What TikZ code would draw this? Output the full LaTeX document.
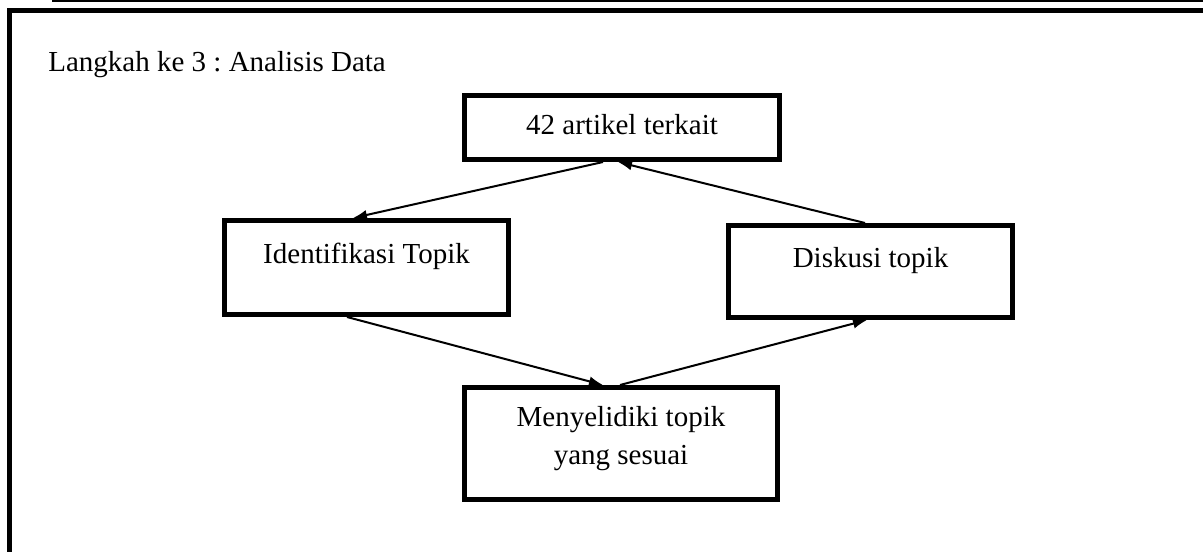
\documentclass[tikz,border=0pt]{standalone}
\usepackage{fontspec}
\setmainfont{Liberation Serif}
\usetikzlibrary{arrows.meta}
\frenchspacing

\begin{document}
\begin{tikzpicture}[x=0.5pt, y=-0.5pt,
    box/.style={draw, line width=2.5pt, inner xsep=0pt, inner ysep=0pt, align=center,
        font=\fontsize{14.5}{19}\selectfont},
    link/.style={-{Latex[length=7pt,width=5pt]}, line width=1pt}]
    \useasboundingbox (0,0) rectangle (1203,551);

    % Draw frame
    \draw[line width=0.8pt] (52,0.8) -- (1210,0.8);
    \draw[line width=2.5pt] (9.5,560) -- (9.5,10.5) -- (1210,10.5);

    % Title
    \node[anchor=base west, inner sep=0pt, font=\fontsize{14.5}{19}\selectfont] (judul) at (48,72) {Langkah ke 3 : Analisis Data};

    % Draw boxes
    \node[box, minimum width=157.5pt, text height=19.5pt, text depth=12.5pt] (artikel) at (622,127.5) {42 artikel terkait};
    \node[box, minimum width=142pt, text height=21.25pt, text depth=25.75pt] (ident) at (366.5,267.5) {Identifikasi Topik};
    \node[box, minimum width=142pt, text height=21pt, text depth=25pt] (diskusi) at (870.5,271.5) {Diskusi topik};
    \node[box, minimum width=156.5pt, text height=38.25pt, text depth=17.75pt] (selidik) at (621,443.5) {Menyelidiki topik\\ yang sesuai};

    % Draw arrows
    \draw[link] ([xshift=-9.5pt]artikel.south) -- ([xshift=-6.75pt]ident.north);
    \draw[link] ([xshift=-2.75pt]diskusi.north) -- ([xshift=-2pt]artikel.south);
    \draw[link] ([xshift=-9.75pt]ident.south) -- ([xshift=-9pt]selidik.north);
    \draw[link] ([xshift=-0.5pt]selidik.north) -- ([xshift=-1.75pt]diskusi.south);
\end{tikzpicture}
\end{document}
